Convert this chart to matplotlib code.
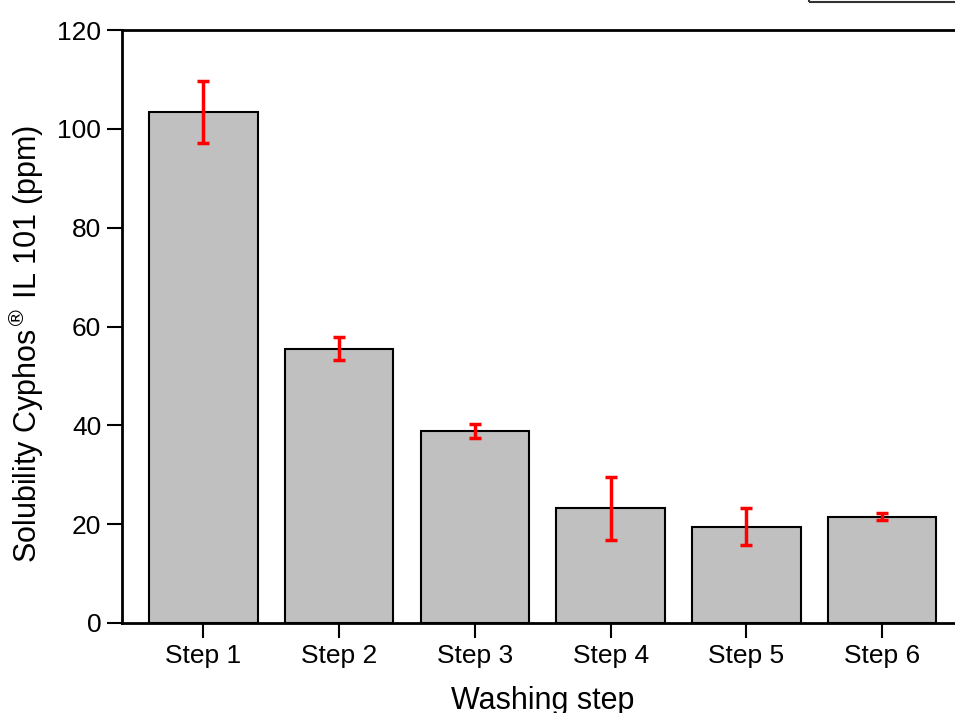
import matplotlib.pyplot as plt
from matplotlib.patches import Rectangle
import numpy as np

plt.rcParams['font.family'] = ['Liberation Sans', 'DejaVu Sans']

# Solubility after each washing step
steps = ["Step 1", "Step 2", "Step 3", "Step 4", "Step 5", "Step 6"]
solubility = [103.4, 55.5, 38.9, 23.2, 19.5, 21.5]
errors = [6.3, 2.3, 1.4, 6.4, 3.8, 0.7]

fig = plt.figure(figsize=(9.55, 7.13), dpi=100)
ax = fig.add_axes([122 / 955, 90 / 713, 841.5 / 955, 593 / 713])

x = np.arange(1, len(steps) + 1)
ax.bar(x, solubility, width=0.8, color="#c0c0c0", edgecolor="black", linewidth=1.5, zorder=2)
ax.errorbar(x, solubility, yerr=errors, fmt="none", ecolor="red",
            elinewidth=2.5, capsize=4.6, capthick=2.5, zorder=3)

ax.set_xlim(0.4, 6.6)
ax.set_ylim(0, 120)
ax.set_xticks(x)
ax.set_xticklabels(steps)
ax.set_yticks(np.arange(0, 121, 20))
ax.tick_params(direction="out", length=11, width=1.5, labelsize=19, pad=4)

for side in ax.spines.values():
    side.set_linewidth(2)

ax.set_xlabel("Washing step", fontsize=22, labelpad=13)
ax.set_ylabel(r"Solubility Cyphos$^{\circledR}$ IL 101 (ppm)", fontsize=22, labelpad=8, y=0.47)

# legend frame at the top right corner
fig.patches.append(Rectangle((809 / 955, 711 / 713), 0.5, 0.1, transform=fig.transFigure,
                             fill=False, edgecolor="#333333", linewidth=1.5))

fig.savefig("out.png", dpi=100)
